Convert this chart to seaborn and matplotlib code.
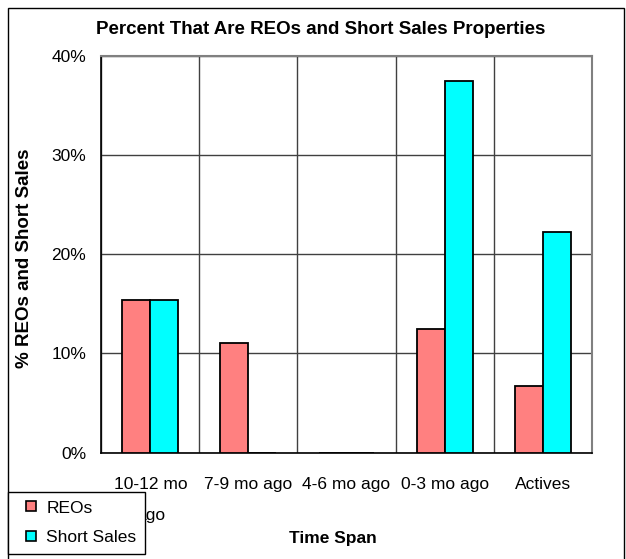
import numpy as np
import pandas as pd
import matplotlib
matplotlib.use("Agg")
import matplotlib.pyplot as plt
import seaborn as sns
from matplotlib.ticker import PercentFormatter, FixedLocator
from matplotlib.patches import Rectangle
from matplotlib.lines import Line2D

# data (percent)
spans = ["10-12 mo\nago", "7-9 mo ago", "4-6 mo ago", "0-3 mo ago", "Actives"]
reos = [15.4, 11.1, 0.0, 12.5, 6.7]
short_sales = [15.4, 0.0, 0.0, 37.5, 22.2]
series = ["REOs", "Short Sales"]
colors = ["#FF8080", "#00FFFF"]

df = pd.DataFrame({
    "span": spans * 2,
    "pct": reos + short_sales,
    "type": [series[0]] * len(spans) + [series[1]] * len(spans),
})

sns.set_style("white")
plt.rcParams["font.family"] = ["Liberation Sans", "DejaVu Sans"]
plt.rcParams["text.color"] = "black"
plt.rcParams["xtick.color"] = "black"
plt.rcParams["ytick.color"] = "black"

W, H = 626, 559
fig = plt.figure(figsize=(W / 100, H / 100), dpi=100)
ax = fig.add_axes([101.3 / W, (H - 452.7) / H, 490.4 / W, 397 / H])

sns.barplot(data=df, x="span", y="pct", hue="type", palette=colors,
            saturation=1, width=0.57, edgecolor="black", linewidth=1.3,
            ax=ax, zorder=3, legend=False)

ax.set_ylim(0, 40)
ax.set_xlim(-0.5, len(spans) - 0.5)
ax.set_yticks([0, 10, 20, 30, 40])
ax.yaxis.set_major_formatter(PercentFormatter(xmax=100, decimals=0))

# gridlines
ax.grid(axis="y", color="#404040", linewidth=1, zorder=0)
ax.xaxis.set_minor_locator(FixedLocator(np.arange(-0.5, len(spans), 1.0)))
ax.grid(axis="x", which="minor", color="#404040", linewidth=1, zorder=0)
ax.grid(axis="x", which="major", visible=False)
ax.set_axisbelow(True)

ax.tick_params(axis="x", which="major", length=0, pad=17.5, labelsize=12.5)
ax.tick_params(axis="x", which="minor", length=5, width=1, direction="out", color="black")
ax.tick_params(axis="y", length=5, width=1, direction="out", color="black", pad=6, labelsize=12.5)
for lab in ax.get_xticklabels():
    lab.set_linespacing(2.35)
    lab.set_verticalalignment("top")

for s in ["left", "bottom"]:
    ax.spines[s].set_color("black")
    ax.spines[s].set_linewidth(1.2)
for s in ["top", "right"]:
    ax.spines[s].set_color("#808080")
    ax.spines[s].set_linewidth(1.5)

ax.set_xlabel("")
ax.set_ylabel("")
fig.text(333 / W, 1 - 538 / H, "Time Span", ha="center", va="center",
         fontsize=12.5, fontweight="bold")
fig.text(25 / W, 1 - 258 / H, "% REOs and Short Sales", ha="center", va="center",
         rotation=90, fontsize=13.5, fontweight="bold")
fig.text(321 / W, 1 - 30 / H, "Percent That Are REOs and Short Sales Properties",
         ha="center", va="center", fontsize=13.5, fontweight="bold")

# legend at lower left, partly over the first tick label
handles = [Line2D([], [], linestyle="none", marker="s", markersize=7.5,
                  markerfacecolor=c, markeredgecolor="black", markeredgewidth=1.2)
           for c in colors]
leg = fig.legend(handles, series, loc="upper left",
                 bbox_to_anchor=(8 / W, 1 - 491.7 / H), bbox_transform=fig.transFigure,
                 frameon=True, fancybox=False, framealpha=1, fontsize=12.5,
                 borderaxespad=0, handlelength=1.7, handletextpad=0.0,
                 labelspacing=0.85, borderpad=0.5)
leg.get_frame().set_edgecolor("black")
leg.get_frame().set_linewidth(1)
leg.set_zorder(10)

# outer chart frame
fig.patches.append(Rectangle((8 / W, -0.05), (624 - 8) / W, 1.05 - 8 / H,
                             transform=fig.transFigure, fill=False,
                             edgecolor="black", linewidth=1))

fig.savefig("out.png", dpi=100)
